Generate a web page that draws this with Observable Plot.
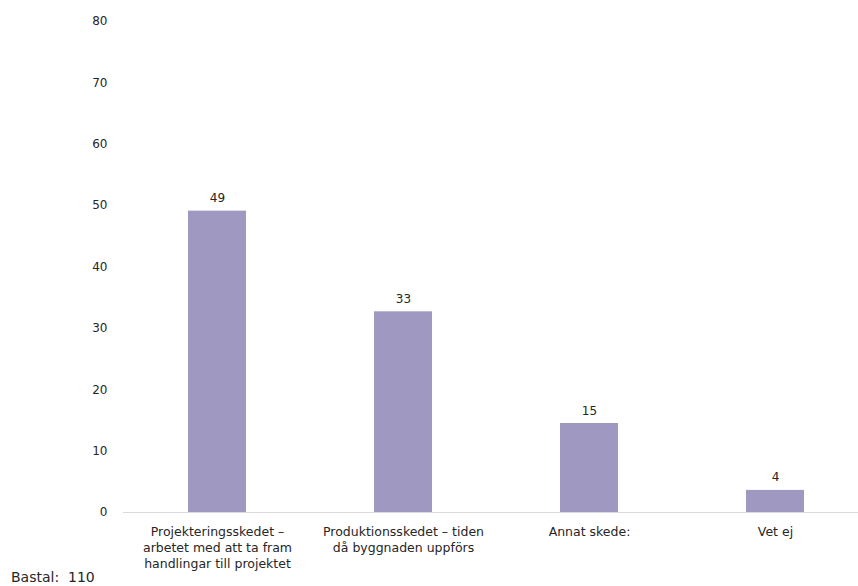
<!DOCTYPE html>
<html>
<head>
<meta charset="utf-8">
<script src="https://cdn.jsdelivr.net/npm/d3@7"></script>
<script src="https://cdn.jsdelivr.net/npm/@observablehq/plot@0.6"></script>
<style>
  body { margin: 0; background: #fff; font-family: "DejaVu Sans", sans-serif; }
  #wrap { position: relative; width: 858px; height: 586px; overflow: hidden; }
  #caption { position: absolute; left: 11px; top: 570px; font-size: 14px; line-height: 15px; color: #262626; white-space: pre; }
</style>
</head>
<body>
<div id="wrap">
  <div id="chart"></div>
  <div id="caption"></div>
</div>
<script>
const categories = [
  "Projekteringsskedet –\narbetet med att ta fram\nhandlingar till projektet",
  "Produktionsskedet – tiden\ndå byggnaden uppförs",
  "Annat skede:",
  "Vet ej"
];
const values = [49.1, 32.7, 14.5, 3.6];
const valueLabels = ["49", "33", "15", "4"];
const yTicks = [0, 10, 20, 30, 40, 50, 60, 70, 80];
const captionText = "Bastal:  110";

const data = categories.map((c, i) => ({cat: c, value: values[i], label: valueLabels[i]}));

const chart = Plot.plot({
  width: 858,
  height: 586,
  marginTop: 21,
  marginBottom: 74,
  marginLeft: 123,
  marginRight: 0,
  style: {fontFamily: "DejaVu Sans, sans-serif", fontSize: "12px", color: "#262626", background: "#fff"},
  x: {domain: categories, range: [123, 869], paddingInner: 0.69, paddingOuter: 0.345, label: null},
  y: {domain: [0, 80], label: null},
  marks: [
    Plot.barY(data, {x: "cat", y: "value", fill: "#9f98c1"}),
    Plot.ruleY([0], {stroke: "#d9d9d9", strokeWidth: 1}),
    Plot.text(data, {x: "cat", y: "value", text: "label", dy: -9, lineAnchor: "bottom", fill: "#262626", fontSize: 12}),
    Plot.axisY({ticks: yTicks, tickSize: 0, tickPadding: 16, label: null, fontSize: 12}),
    Plot.axisX({tickSize: 0, tickPadding: 12, label: null, lineHeight: 1.28, fontSize: 12.5})
  ]
});
document.getElementById("chart").appendChild(chart);
document.getElementById("caption").textContent = captionText;
</script>
</body>
</html>
